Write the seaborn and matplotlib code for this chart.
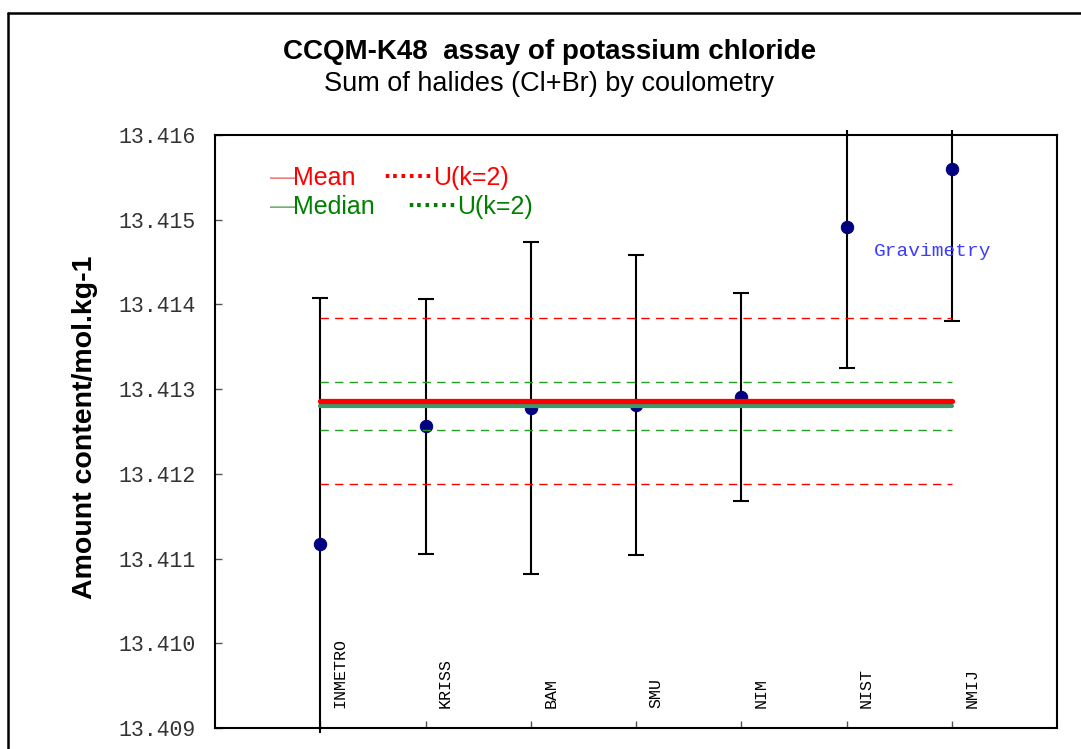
import numpy as np
import pandas as pd
import matplotlib
matplotlib.use("Agg")
import matplotlib.pyplot as plt
import seaborn as sns
from matplotlib.patches import Rectangle

# participants and results (mol/kg)
labs = ["INMETRO", "KRISS", "BAM", "SMU", "NIM", "NIST", "NMIJ"]
values = [13.41117, 13.41256, 13.41278, 13.41281, 13.41291, 13.41491, 13.41560]
unc = [0.00291, 0.00151, 0.00196, 0.00177, 0.00123, 0.00166, 0.00180]

mean_val = 13.41286
mean_u = 0.00098
median_val = 13.41280
median_u = 0.000285

yticks = [13.409, 13.410, 13.411, 13.412, 13.413, 13.414, 13.415, 13.416]

df = pd.DataFrame({"lab": labs, "pos": np.arange(1, len(labs) + 1), "value": values, "U": unc})

sns.set_theme(style="white")
plt.rcParams["font.family"] = ["Liberation Sans", "DejaVu Sans"]

fig = plt.figure(figsize=(10.81, 7.49), dpi=100)
ax = fig.add_axes([0.1989, 0.028, 0.7789, 0.7917])

# error bars, allowed to run a few pixels past the frame like Excel does
eb = ax.errorbar(df["pos"], df["value"], yerr=df["U"], fmt="none", ecolor="black",
                 elinewidth=1.5, capsize=5.5, capthick=1.5, zorder=2)
clip = Rectangle((0, -0.009), 1, 1.018, transform=ax.transAxes, facecolor="none", edgecolor="none")
ax.add_patch(clip)
for art in list(eb.lines[1]) + list(eb.lines[2]):
    art.set_clip_path(clip)

sns.scatterplot(data=df, x="pos", y="value", ax=ax, color="#000080", s=80,
                edgecolor="#000080", zorder=3, legend=False)

x0, x1 = df["pos"].iloc[0], df["pos"].iloc[-1]
ax.plot([x0, x1], [mean_val, mean_val], color="#ff0000", lw=3.8, zorder=5, solid_capstyle="round")
ax.plot([x0, x1], [median_val, median_val], color="#3a9a6a", lw=3.0, zorder=4)
for v in (mean_val - mean_u, mean_val + mean_u):
    ax.plot([x0, x1], [v, v], color="#ff0000", lw=1.0, dashes=(6, 4.5), zorder=4)
for v in (median_val - median_u, median_val + median_u):
    ax.plot([x0, x1], [v, v], color="#22a022", lw=1.0, dashes=(6, 4.5), zorder=4)

# lab names written inside the plot
for p, name in zip(df["pos"], df["lab"]):
    ax.text(p + 0.19, 13.40924, name, rotation=90, ha="center", va="bottom",
            fontsize=12, family="Liberation Mono", color="black")

ax.text(6.26, 13.41463, "Gravimetry", fontsize=14, family="Liberation Mono",
        color="#3c3cff", va="center")

# hand-made legend
dots = "\u00b7" * 6
ax.text(0.52, 13.41549, "\u2014", color="#f08080", fontsize=18, va="center")
ax.text(0.745, 13.41549, "Mean", color="#ff0000", fontsize=18, va="center")
ax.text(1.60, 13.41549, dots, color="#ff0000", fontsize=18, va="center", fontweight="bold")
ax.text(2.07, 13.41549, "U(k=2)", color="#ff0000", fontsize=18, va="center")
ax.text(0.52, 13.41515, "\u2014", color="#70b070", fontsize=18, va="center")
ax.text(0.745, 13.41515, "Median", color="#008000", fontsize=18, va="center")
ax.text(1.83, 13.41515, dots, color="#008000", fontsize=18, va="center", fontweight="bold")
ax.text(2.30, 13.41515, "U(k=2)", color="#008000", fontsize=18, va="center")

ax.set_xlim(0, 8)
ax.set_ylim(13.409, 13.416)
ax.set_xticks(range(1, 8))
ax.set_xticklabels([])
ax.set_yticks(yticks)
ax.set_yticklabels([f"{t:.3f}" for t in yticks], family="Liberation Mono", fontsize=15.5, color="#333333")
ax.tick_params(axis="both", direction="in", length=5, width=1, color="#555555", left=True, bottom=True)
ax.tick_params(axis="y", pad=14)
ax.set_xlabel("")
ax.set_ylabel("")
for sp in ax.spines.values():
    sp.set_color("black")
    sp.set_linewidth(1.5)

fig.text(0.508, 0.930, "CCQM-K48  assay of potassium chloride", ha="center", va="center",
         fontsize=20, fontweight="bold", color="black")
fig.text(0.508, 0.888, "Sum of halides (Cl+Br) by coulometry", ha="center", va="center",
         fontsize=19.5, color="black")
fig.text(0.079, 0.43, "Amount content/mol.kg-1", rotation=90, ha="center", va="center",
         fontsize=20.5, fontweight="bold", color="black")

# outer chart border (only left and top edges are inside the image)
fig.add_artist(plt.Line2D([8 / 1081, 8 / 1081], [0, 1 - 13 / 749], transform=fig.transFigure,
                          color="black", lw=1.8))
fig.add_artist(plt.Line2D([8 / 1081, 1], [1 - 13 / 749, 1 - 13 / 749], transform=fig.transFigure,
                          color="black", lw=1.8))

fig.savefig("out.png", dpi=100)
